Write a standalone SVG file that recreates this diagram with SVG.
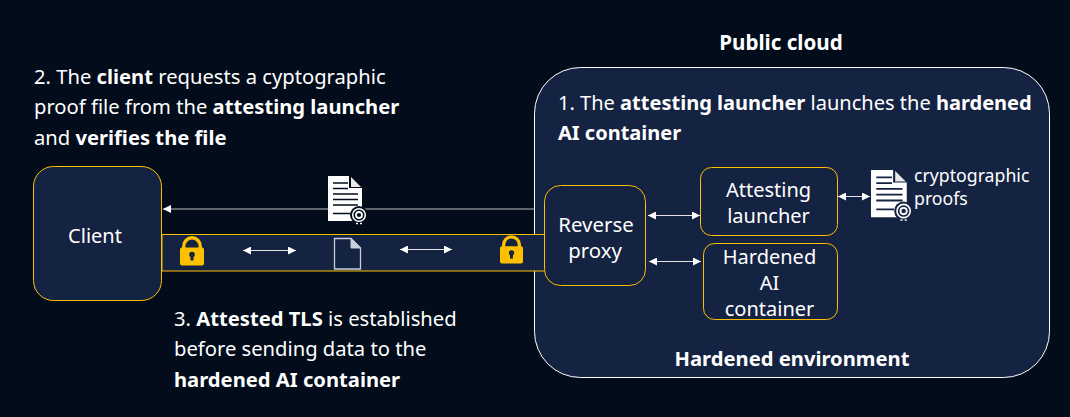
<svg xmlns="http://www.w3.org/2000/svg" xmlns:xlink="http://www.w3.org/1999/xlink" width="1070" height="417" viewBox="0 0 1070 417">
<style>
text{font-family:"Noto Sans","Open Sans","Liberation Sans",sans-serif;font-size:20px;fill:#fff}
.t{font-size:20.2px}
.b{font-weight:700}
.m{text-anchor:middle}
.box{fill:#152342;stroke:#ffc000;stroke-width:1}
.wbox{fill:#152342;stroke:#fff;stroke-width:1}
.ln{stroke:#e4e4e4;stroke-width:1;fill:none;marker-start:url(#a);marker-end:url(#a)}
.one{stroke:#bdbdbd;stroke-width:1;fill:none;marker-end:url(#a)}
</style>
<defs>
<marker id="a" markerUnits="userSpaceOnUse" markerWidth="9" markerHeight="8" refX="8" refY="4" orient="auto-start-reverse"><path d="M0 0L8 4L0 8Z" fill="#fff"/></marker>
<symbol id="cert" viewBox="0 0 38 50" overflow="visible">
<path d="M0 0H21V12H34V45H0Z" fill="#fff"/>
<path d="M23 1L33 11H23Z" fill="#e8e8e8"/>
<path d="M5 7H20M5 12.500H20M5 18H30M5 23.500H30M5 29H30M5 37.500H22" stroke="currentColor" stroke-width="1.700"/>
<circle cx="31" cy="39" r="9" fill="currentColor"/>
<circle cx="31" cy="39" r="6.300" fill="none" stroke="#fff" stroke-width="1.500"/>
<circle cx="31" cy="39" r="3" fill="none" stroke="#fff" stroke-width="1.800"/>
<path d="M28 47.500h2M32 47.500h2" stroke="#fff" stroke-width="1.500"/>
</symbol>
<symbol id="lock" viewBox="0 0 24 30" overflow="visible">
<path d="M3.800 14V10a8.200 8.200 0 0 1 16.400 0V14" fill="none" stroke="#ffc000" stroke-width="3.400"/>
<rect x="0" y="11.500" width="24" height="18" rx="2" fill="#ffc000"/>
<circle cx="12" cy="18.500" r="2.800" fill="#152342"/>
<rect x="10.500" y="19" width="3" height="5.500" fill="#152342"/>
</symbol>
</defs>
<rect width="1070" height="417" fill="#020c1b"/>
<g id="cloud">
<rect class="wbox" x="534.500" y="67.500" width="515" height="310" rx="46"/>
<text class="b m" x="781" y="50" style="font-size:20.600px">Public cloud</text>
<text x="558" y="110" style="font-size:20.050px">1. The <tspan class="b">attesting launcher</tspan> launches the <tspan class="b">hardened</tspan></text>
<text class="b" x="558" y="140">AI container</text>
<text class="b m t" x="792" y="366">Hardened environment</text>
</g>
<g id="tunnel">
<rect x="162" y="234.500" width="384" height="36.500" fill="#152342" stroke="#ffc000"/>
<use xlink:href="#lock" href="#lock" x="180" y="236" width="24" height="30"/>
<use xlink:href="#lock" href="#lock" x="500" y="235" width="23" height="29"/>
<path d="M334.500 238.500H351L360.500 248V269H334.500Z" fill="none" stroke="#c9ced8" stroke-width="1.300"/>
<path d="M351 238.500V248H360.500Z" fill="#c9ced8" stroke="#c9ced8"/>
</g>
<g id="client">
<rect class="box" x="33.500" y="166.500" width="128" height="134" rx="20"/>
<text class="m" x="95" y="243">Client</text>
</g>
<g id="reverse-proxy">
<rect class="box" x="544.500" y="185.500" width="101" height="100" rx="16"/>
<text class="m" x="596" y="232" style="font-size:20.400px">Reverse</text>
<text class="m" x="595" y="258" style="font-size:20.400px">proxy</text>
</g>
<g id="attesting-launcher">
<rect class="box" x="700.500" y="167.500" width="137" height="68" rx="11"/>
<text class="m" x="768.500" y="197">Attesting</text>
<text class="m" x="768.500" y="223">launcher</text>
</g>
<g id="hardened-ai">
<rect class="box" x="703.500" y="243.500" width="134" height="76" rx="11"/>
<text class="m" x="769.500" y="264">Hardened</text>
<text class="m" x="769.500" y="290">AI</text>
<text class="m" x="769.500" y="316">container</text>
</g>
<g id="proofs">
<use xlink:href="#cert" href="#cert" x="871" y="170" width="40" height="52.600" style="color:#152342"/>
<text x="914" y="182" style="font-size:17.700px">cryptographic</text>
<text x="914" y="205" style="font-size:17.700px">proofs</text>
</g>
<g id="connectors">
<path class="one" d="M534 209H163"/>
<path class="ln" d="M243 250.500H296"/>
<path class="ln" d="M400 249.500H452"/>
<path class="ln" d="M648 215.500H700"/>
<path class="ln" d="M649 261.500H701"/>
<path class="ln" d="M838 196.500H870"/>
</g>
<g id="doc-in-transit"><use xlink:href="#cert" href="#cert" x="328" y="176" width="38" height="50" style="color:#020c1b"/></g>
<g id="step-2">
<text class="t" x="34" y="84">2. The <tspan class="b">client</tspan> requests a cyptographic</text>
<text class="t" x="34" y="114">proof file from the <tspan class="b">attesting launcher</tspan></text>
<text class="t" x="34" y="145">and <tspan class="b">verifies the file</tspan></text>
</g>
<g id="step-3">
<text class="t" x="174" y="326">3. <tspan class="b">Attested TLS</tspan> is established</text>
<text class="t" x="174" y="356">before sending data to the</text>
<text class="b t" x="174" y="387">hardened AI container</text>
</g>
</svg>
